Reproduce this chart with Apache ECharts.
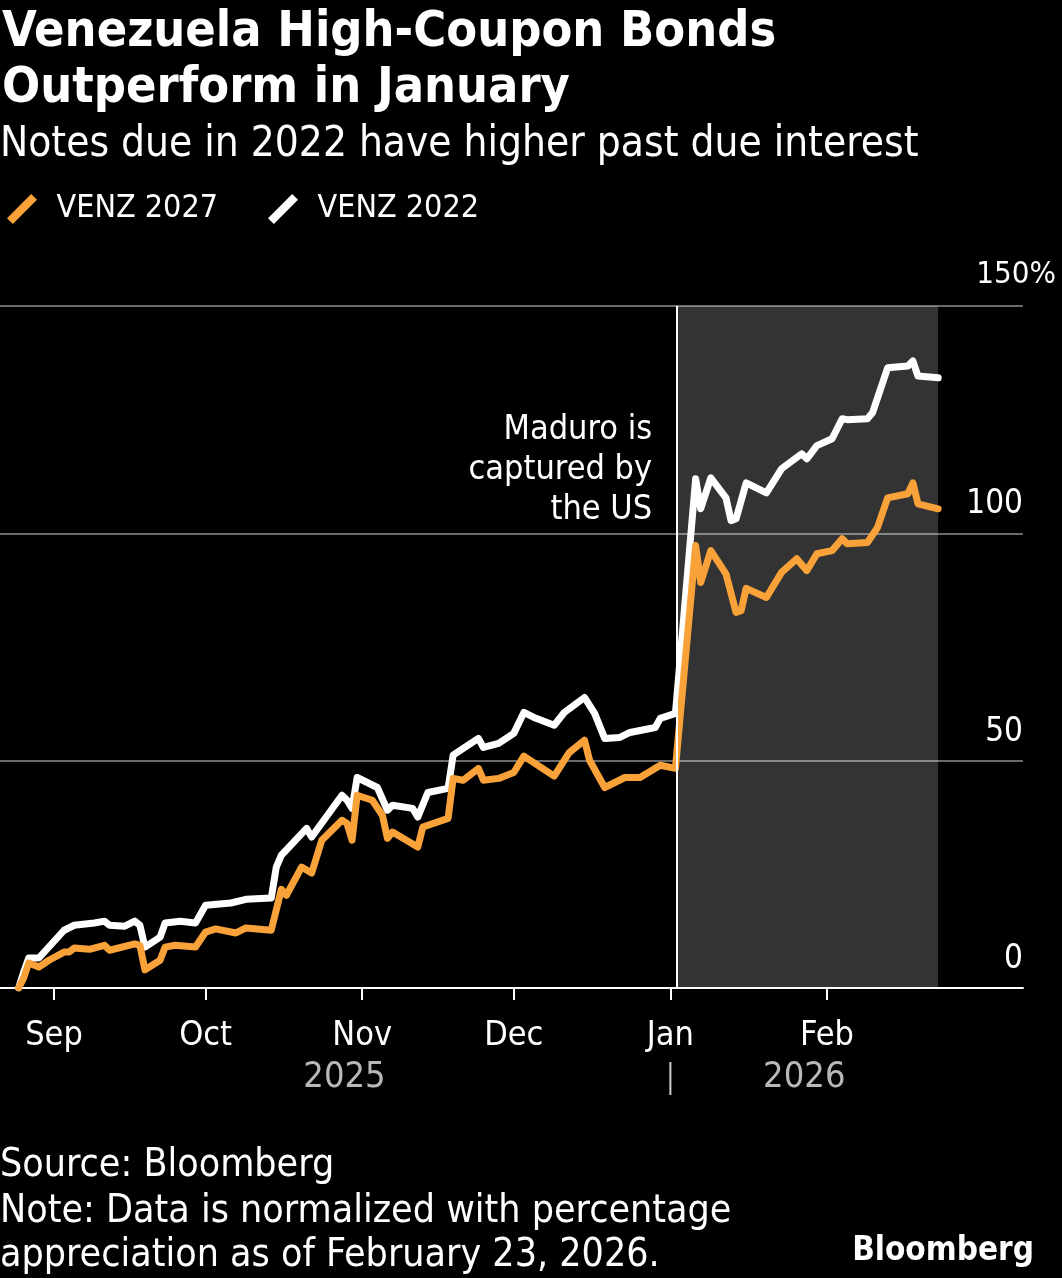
<!DOCTYPE html>
<html><head><meta charset="utf-8">
<script src="https://cdn.jsdelivr.net/npm/echarts@6/dist/echarts.min.js"></script>
<style>html,body{margin:0;padding:0;background:#000;}#c{width:1062px;height:1278px;}</style>
</head><body><div id="c"></div>
<script>
const seriesNames = ['VENZ 2027', 'VENZ 2022'];
const datesOrange = ['2025-08-25','2025-08-26','2025-08-27','2025-08-29','2025-08-31','2025-09-03','2025-09-04','2025-09-05','2025-09-08','2025-09-11','2025-09-12','2025-09-17','2025-09-18','2025-09-19','2025-09-22','2025-09-23','2025-09-25','2025-09-29','2025-10-01','2025-10-03','2025-10-07','2025-10-09','2025-10-14','2025-10-16','2025-10-17','2025-10-20','2025-10-22','2025-10-24','2025-10-28','2025-10-29','2025-10-30','2025-10-31','2025-11-03','2025-11-05','2025-11-06','2025-11-07','2025-11-12','2025-11-13','2025-11-18','2025-11-19','2025-11-21','2025-11-24','2025-11-25','2025-11-28','2025-12-01','2025-12-03','2025-12-09','2025-12-12','2025-12-15','2025-12-16','2025-12-19','2025-12-23','2025-12-26','2025-12-30','2026-01-02','2026-01-06','2026-01-07','2026-01-09','2026-01-12','2026-01-14','2026-01-15','2026-01-16','2026-01-20','2026-01-23','2026-01-26','2026-01-28','2026-01-30','2026-02-02','2026-02-04','2026-02-05','2026-02-09','2026-02-11','2026-02-13','2026-02-17','2026-02-18','2026-02-19','2026-02-23'];
const valuesOrange = [0,2.2,5.5,4.6,6.1,7.9,7.9,8.8,8.5,9.4,8.3,9.7,9.4,4.0,6.1,9.0,9.4,9.0,12.3,13.0,12.1,13.2,12.7,21.7,20.4,26.6,25.3,32.5,36.9,36.2,32.5,42.4,41.3,38.0,32.9,34.3,31.0,35.4,37.3,46.1,45.7,48.3,45.7,46.1,47.4,51.0,46.6,51.8,54.5,50.1,44.1,46.3,46.3,49.0,48.3,97.3,89.2,96.2,91.1,82.6,83.0,87.9,85.9,91.4,94.4,91.8,95.5,96.2,98.8,97.7,98.0,101.3,107.8,108.7,111.1,106.5,105.4];
const datesWhite = ['2025-08-25','2025-08-26','2025-08-27','2025-08-29','2025-09-03','2025-09-05','2025-09-09','2025-09-11','2025-09-12','2025-09-15','2025-09-17','2025-09-18','2025-09-19','2025-09-22','2025-09-23','2025-09-26','2025-09-29','2025-10-01','2025-10-06','2025-10-09','2025-10-14','2025-10-15','2025-10-16','2025-10-21','2025-10-22','2025-10-28','2025-10-29','2025-10-30','2025-10-31','2025-11-04','2025-11-06','2025-11-07','2025-11-11','2025-11-12','2025-11-14','2025-11-18','2025-11-19','2025-11-21','2025-11-24','2025-11-25','2025-11-28','2025-12-01','2025-12-03','2025-12-05','2025-12-09','2025-12-11','2025-12-15','2025-12-17','2025-12-19','2025-12-22','2025-12-24','2025-12-29','2025-12-30','2026-01-02','2026-01-06','2026-01-07','2026-01-09','2026-01-12','2026-01-13','2026-01-14','2026-01-16','2026-01-20','2026-01-23','2026-01-27','2026-01-28','2026-01-30','2026-02-02','2026-02-04','2026-02-05','2026-02-09','2026-02-10','2026-02-13','2026-02-17','2026-02-18','2026-02-19','2026-02-23'];
const valuesWhite = [0,3.5,6.6,6.6,12.7,13.8,14.3,14.7,13.8,13.6,14.7,13.8,9.0,11.2,14.3,14.7,14.3,18.2,18.7,19.5,19.8,26.6,29.2,35.1,33.2,42.4,41.3,39.5,46.3,44.1,39.1,40.2,39.5,37.6,43.0,43.9,51.2,52.7,54.9,52.9,53.8,56.0,60.6,59.5,57.8,60.6,63.9,60.4,54.9,55.1,56.2,57.3,59.3,60.4,112.0,105.4,112.2,107.8,102.8,103.2,111.1,108.9,114.2,117.5,116.4,119.3,120.8,125.2,125.0,125.2,126.5,136.4,136.8,137.9,134.6,134.2];
const monthLabels = ['Jan','Feb','Mar','Apr','May','Jun','Jul','Aug','Sep','Oct','Nov','Dec'];
const monthTicks = ['2025-09-01','2025-10-01','2025-11-01','2025-12-01','2026-01-01','2026-02-01'];
const yearLabels = ['2025', '2026'];
const yTicks = {min: 0, max: 150, interval: 50};
const eventDate = '2026-01-02T08:00:00';
const yearBreak = '2026-01-01T00:00:00';
const xMin = '2025-08-21T07:30:00';
const xMax = '2026-03-11T19:00:00';

const FONT = '"DejaVu Sans Condensed", "DejaVu Sans", sans-serif';
const ORANGE = '#f9a23a';

const chart = echarts.init(document.getElementById('c'), null, {renderer: 'canvas'});
const t = (s) => new Date(s.length === 10 ? s + 'T00:00:00' : s).getTime();
const pair = (d, v) => d.map((x, i) => [t(x), v[i]]);
const slash = 'path://M0,25 L25,0 L31,6 L6,31 Z';
const tickTs = monthTicks.map(t);
const lastDate = t(datesWhite[datesWhite.length - 1]);

chart.setOption({
  backgroundColor: '#000',
  animation: false,
  title: [
    {text: 'Venezuela High-Coupon Bonds\nOutperform in January', left: -3, top: 0,
     textStyle: {color: '#fff', fontFamily: FONT, fontWeight: 'bold', fontSize: 50, lineHeight: 56}},
    {text: 'Notes due in 2022 have higher past due interest', left: -5, top: 118,
     textStyle: {color: '#fff', fontFamily: FONT, fontWeight: 'normal', fontSize: 42, lineHeight: 44}}
  ],
  legend: {
    data: seriesNames, left: 2, top: 188, itemWidth: 31, itemHeight: 30, itemGap: 50,
    icon: slash,
    textStyle: {color: '#fff', fontFamily: FONT, fontSize: 32, padding: [0, 0, 0, 14]}
  },
  grid: {left: 0, right: 39, top: 306, bottom: 1278 - 988, containLabel: false},
  xAxis: {
    type: 'value', min: t(xMin), max: t(xMax),
    axisLine: {show: true, onZero: false, lineStyle: {color: '#fff', width: 2}},
    axisTick: {show: true, length: 12, lineStyle: {color: '#fff', width: 2}, customValues: tickTs},
    splitLine: {show: false},
    axisLabel: {
      color: '#fff', fontFamily: FONT, fontSize: 34, margin: 31,
      customValues: tickTs,
      formatter: (val) => monthLabels[new Date(val).getMonth()]
    }
  },
  yAxis: {
    type: 'value', position: 'right', min: yTicks.min, max: yTicks.max, interval: yTicks.interval,
    axisLine: {show: false}, axisTick: {show: false},
    splitLine: {show: true, lineStyle: {color: '#6a6a6a', width: 2}},
    axisLabel: {
      inside: true, margin: 0, color: '#fff', fontFamily: FONT, fontSize: 33,
      verticalAlign: 'bottom', align: 'right', padding: [0, 0, 12, 0],
      formatter: (v) => (v === yTicks.max ? '' : String(v))
    }
  },
  series: [
    {
      name: seriesNames[1], type: 'line', data: pair(datesWhite, valuesWhite),
      showSymbol: false, symbol: 'none', z: 3,
      lineStyle: {color: '#fff', width: 7, join: 'round', cap: 'round'},
      itemStyle: {color: '#fff'},
      markArea: {
        silent: true,
        itemStyle: {color: 'rgba(255,255,255,0.2)'},
        data: [[{xAxis: t(eventDate)}, {xAxis: lastDate}]]
      },
      markLine: {
        silent: true, symbol: 'none', label: {show: false},
        lineStyle: {color: '#fff', width: 2, type: 'solid'},
        data: [{xAxis: t(eventDate)}]
      }
    },
    {
      name: seriesNames[0], type: 'line', data: pair(datesOrange, valuesOrange),
      showSymbol: false, symbol: 'none', z: 4,
      lineStyle: {color: ORANGE, width: 7, join: 'round', cap: 'round'},
      itemStyle: {color: ORANGE}
    }
  ]
});

function px(d, v) { return chart.convertToPixel({gridIndex: 0}, [d, v]); }
const gStart = px(t(datesWhite[0]), 0)[0];
const gBreak = px(t(yearBreak), 0)[0];
const gEnd = px(lastDate, 0)[0];
const gEvent = px(t(eventDate), 0)[0];
const top150 = px(t(eventDate), yTicks.max);

chart.setOption({
  graphic: [
    {type: 'text', x: (gStart + gBreak) / 2, y: 1078,
     style: {text: yearLabels[0], fill: '#b8b8b8', font: '36px ' + FONT, textAlign: 'center', textVerticalAlign: 'middle'}},
    {type: 'text', x: (gBreak + gEnd) / 2, y: 1078,
     style: {text: yearLabels[1], fill: '#b8b8b8', font: '36px ' + FONT, textAlign: 'center', textVerticalAlign: 'middle'}},
    {type: 'line', shape: {x1: gBreak, y1: 1062, x2: gBreak, y2: 1095},
     style: {stroke: '#d0d0d0', lineWidth: 2}},
    {type: 'text', x: gEvent - 25, y: 470,
     style: {text: 'Maduro is\ncaptured by\nthe US', fill: '#fff', font: '34px ' + FONT,
             textAlign: 'right', textVerticalAlign: 'middle', lineHeight: 40}},
    {type: 'text', x: 1056, y: top150[1] - 16,
     style: {text: yTicks.max + '%', fill: '#fff', font: '31px ' + FONT, textAlign: 'right', textVerticalAlign: 'bottom'}},
    {type: 'text', x: 0, y: 1166,
     style: {text: 'Source: Bloomberg', fill: '#fff', font: '39px ' + FONT, textAlign: 'left', textVerticalAlign: 'middle'}},
    {type: 'text', x: 0, y: 1212,
     style: {text: 'Note: Data is normalized with percentage', fill: '#fff', font: '39px ' + FONT, textAlign: 'left', textVerticalAlign: 'middle'}},
    {type: 'text', x: 0, y: 1256,
     style: {text: 'appreciation as of February 23, 2026.', fill: '#fff', font: '39px ' + FONT, textAlign: 'left', textVerticalAlign: 'middle'}},
    {type: 'text', x: 1034, y: 1251,
     style: {text: 'Bloomberg', fill: '#fff', font: 'bold 33px ' + FONT, textAlign: 'right', textVerticalAlign: 'middle'}}
  ]
});
</script>
</body></html>
